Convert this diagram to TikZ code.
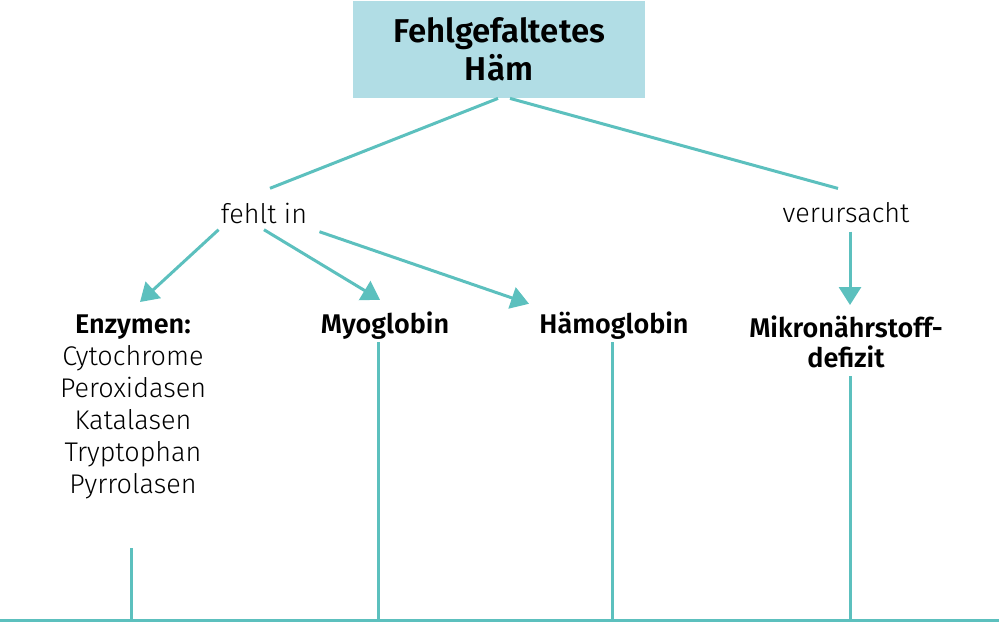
\documentclass[tikz,border=0pt]{standalone}
\usepackage{fontspec}
\setmainfont{Fira Sans Light}[BoldFont={Fira Sans SemiBold}]
\usepackage{xcolor}
\usetikzlibrary{arrows.meta}
\definecolor{haemblue}{HTML}{B1DDE5}
\definecolor{tealline}{HTML}{5CC0BE}

\begin{document}
\begin{tikzpicture}[x=0.5pt,y=-0.5pt,font=\fontsize{13.5}{16}\selectfont,
  conn/.style={draw=tealline,line width=1.5pt},
  arr/.style={conn,-{Triangle[length=9pt,width=11pt]}},
  lbl/.style={inner sep=1pt,align=center}]
\useasboundingbox (0,0) rectangle (999,623);
\node[fill=haemblue,minimum width=146pt,minimum height=48.5pt,align=center,
  font=\fontsize{16.5}{19}\selectfont\bfseries] (haem) at (499,49.5) {Fehlgefaltetes\\Häm};
\node[lbl] (fehlt) at (264,213) {fehlt in};
\node[lbl] (verurs) at (846,213) {verursacht};
\node[lbl,anchor=north] (enz) at (133,312) {\textbf{Enzymen:}\\Cytochrome\\Peroxidasen\\Katalasen\\Tryptophan\\Pyrrolasen};
\node[lbl,font=\fontsize{13.5}{16}\selectfont\bfseries] (myo) at (385,326) {Myoglobin};
\node[lbl,font=\fontsize{13.5}{16}\selectfont\bfseries] (haemo) at (614,326) {Hämoglobin};
\node[lbl,anchor=north,font=\fontsize{13.5}{15}\selectfont\bfseries] (mikro) at (846,313) {Mikronährstoff-\\defizit};
% from the box
\draw[conn] ([xshift=-0.5pt]haem.south) -- ([xshift=3pt,yshift=6pt]fehlt.north);
\draw[conn] ([xshift=5.5pt]haem.south) -- ([xshift=-4pt,yshift=6pt]verurs.north);
% arrows
\draw[arr] ([yshift=-2pt]fehlt.south west) -- ([xshift=3.5pt,yshift=5pt]enz.north);
\draw[arr] ([yshift=-2pt]fehlt.south) -- ([xshift=-2.5pt,yshift=5pt]myo.north);
\draw[arr] ([xshift=5pt,yshift=-3pt]fehlt.south east) -- ([xshift=-4pt,yshift=3pt]haemo.north west);
\draw[arr] ([xshift=2pt,yshift=-3pt]verurs.south) -- ([xshift=2pt,yshift=4pt]mikro.north);
% down to the base line
\coordinate (b0) at (0,620);
\coordinate (b1) at (131,620);
\coordinate (b2) at (378,620);
\coordinate (b3) at (612,620);
\coordinate (b4) at (850,620);
\coordinate (b5) at (999,620);
\draw[conn] (b0) -- (b5);
\draw[conn] (b1) -- ++(0,-72);
\draw[conn] (b2) -- (b2 |- myo.south);
\draw[conn] (b3) -- (b3 |- haemo.south);
\draw[conn] (b4) -- ([yshift=-3pt]b4 |- mikro.south);
\end{tikzpicture}
\end{document}
